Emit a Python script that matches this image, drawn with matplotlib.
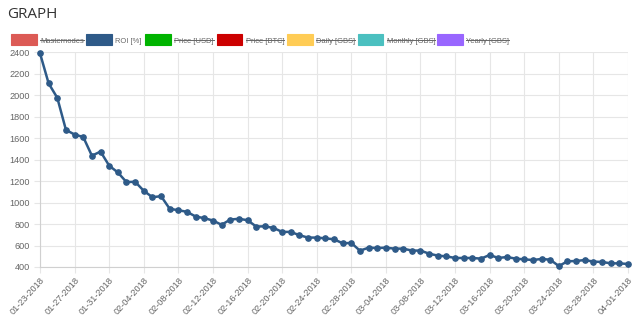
import matplotlib
matplotlib.use("Agg")
import matplotlib.pyplot as plt
from matplotlib.patches import Rectangle
from matplotlib.lines import Line2D
import pandas as pd

dates = pd.date_range("2018-01-23", "2018-04-01", freq="D").strftime("%m-%d-%Y").tolist()
roi = [2391, 2110, 1976, 1677, 1634, 1611, 1437, 1475, 1344, 1281,
       1191, 1194, 1110, 1050, 1060, 942, 929, 914, 870, 855,
       833, 793, 842, 849, 836, 777, 779, 764, 727, 727,
       696, 674, 674, 667, 658, 621, 624, 552, 580, 577,
       580, 571, 571, 553, 553, 524, 506, 499, 484, 484,
       484, 478, 512, 484, 493, 478, 471, 465, 475, 468,
       409, 453, 456, 465, 450, 447, 434, 434, 428]

legend_labels = ["Masternodes", "ROI [%]", "Price [USD]", "Price [BTC]",
                 "Daily [GBS]", "Monthly [GBS]", "Yearly [GBS]"]
legend_colors = ["#dc5a55", "#2e5a88", "#00b400", "#cc0000",
                 "#ffcc55", "#4bc0c0", "#9966ff"]
legend_hidden = [True, False, True, True, True, True, True]

plt.rcParams["font.family"] = ["Liberation Sans", "DejaVu Sans"]

W, H = 640, 326
fig = plt.figure(figsize=(W / 100, H / 100), dpi=100)
ax = fig.add_axes([40 / W, 1 - 267 / H, 588 / W, (267 - 52.3) / H])

x = list(range(len(roi)))
ax.plot(x, roi, color="#2e5a88", lw=1.8, marker="o", ms=3.8, zorder=3, clip_on=False)
ax.set_xlim(0, len(roi) - 1)
ax.set_ylim(400, 2400)
ax.set_yticks(range(400, 2401, 200))
ax.set_xticks(x[::4])
ax.set_xticklabels(dates[::4], rotation=48, ha="right", rotation_mode="anchor")
ax.grid(True, color="#e6e6e6", lw=0.8)
ax.set_axisbelow(True)
for s in ax.spines.values():
    s.set_visible(False)
ax.spines["left"].set_visible(True)
ax.spines["bottom"].set_visible(True)
ax.spines["left"].set_color("#d0d0d0")
ax.spines["bottom"].set_color("#d0d0d0")
ax.tick_params(colors="#e6e6e6", labelcolor="#666666", labelsize=6.6, length=4, width=0.8)
ax.tick_params(axis="x", pad=2)

fig.text(7 / W, 1 - 18.5 / H, "GRAPH", fontsize=11, color="#333333",
         family="Open Sans")

# legend drawn by hand so hidden entries get struck through
bx = [11, 86.3, 145.3, 216.7, 287.3, 357.7, 437]
base_y = 42.6
for lx, lab, col, hid in zip(bx, legend_labels, legend_colors, legend_hidden):
    fig.patches.append(Rectangle((lx / W, 1 - 45 / H), 25.5 / W, 10.5 / H,
                                 transform=fig.transFigure, facecolor=col,
                                 edgecolor=col, lw=0.8))
    t = fig.text((lx + 29) / W, 1 - base_y / H, lab, fontsize=5.4, color="#666666",
                 va="baseline")
    if hid:
        fig.canvas.draw()
        bb = t.get_window_extent(fig.canvas.get_renderer())
        ys = 1 - (base_y - 2.7) / H
        fig.lines.append(Line2D([bb.x0 / W, bb.x1 / W], [ys, ys],
                                transform=fig.transFigure, color="#666666", lw=0.7))

fig.savefig("out.png", dpi=100)
